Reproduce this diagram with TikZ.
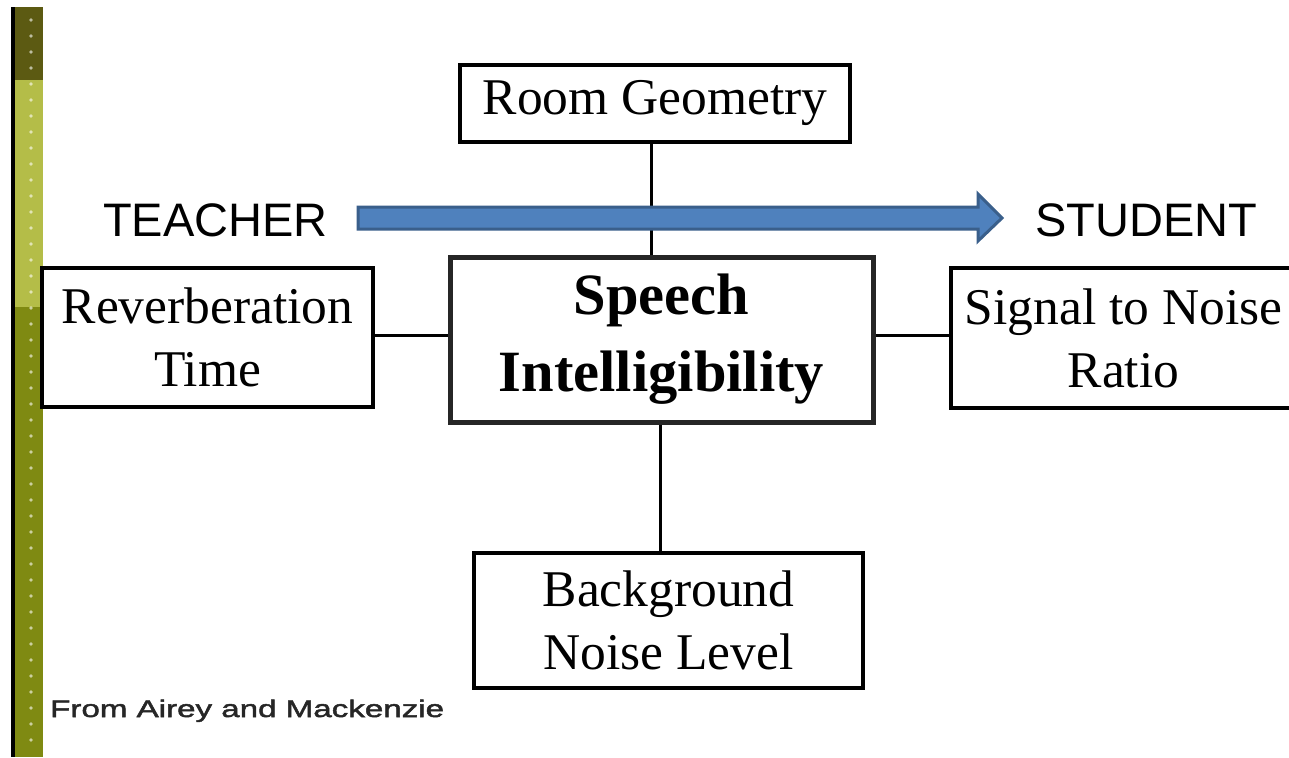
\documentclass[tikz,border=0pt]{standalone}
\usepackage{fontspec}
\setmainfont{Liberation Serif}
\newfontfamily\labelsans{Liberation Sans}
\newfontfamily\widesans[FakeStretch=1.38,FakeBold=2]{Liberation Sans}
\definecolor{barDark}{HTML}{5C5A12}
\definecolor{barLight}{HTML}{B4BD48}
\definecolor{barOlive}{HTML}{7F8A12}
\definecolor{arrowFill}{HTML}{4F81BD}
\definecolor{arrowLine}{HTML}{3A5F8B}
\tikzset{
  factor/.style={draw=black, line width=3.2pt, fill=white, align=center, inner sep=0pt,
     font=\fontsize{51.5}{63}\selectfont},
  central/.style={draw=black!85, line width=5pt, fill=white, align=center, inner sep=0pt,
     font=\fontsize{58.5}{75}\selectfont\bfseries},
  link/.style={line width=3pt, draw=black},
  actor/.style={font=\labelsans\fontsize{47}{50}\selectfont, inner sep=0pt, anchor=base west},
}
\begin{document}
\begin{tikzpicture}[x=1pt,y=-1pt]
\useasboundingbox (0,0) rectangle (1289,757);
\clip (0,0) rectangle (1289,757);
\fill[white] (0,0) rectangle (1289,757);
% left decorative bar
\fill[black] (11,7) rectangle (15,757);
\fill[barDark] (15,7) rectangle (43,80);
\fill[barLight] (15,80) rectangle (43,307);
\fill[barOlive] (15,307) rectangle (43,757);
\foreach \yy in {20,36,...,750} {\fill[white,opacity=0.6] (31,\yy) circle (1.8);}
% boxes
\node[factor, minimum width=390, minimum height=77] (room) at (655,103.5) {Room Geometry};
\node[factor, minimum width=331, minimum height=139] (reverb) at (207.5,337.5) {Reverberation\\Time};
\node[central, minimum width=423, minimum height=165] (speech) at (661.5,339.5) {Speech\\[2pt]Intelligibility};
\node[factor, minimum width=345, minimum height=140] (snr) at (1123.5,338) {Signal to Noise\\Ratio};
\node[factor, minimum width=389, minimum height=135] (noise) at (668.5,620.5) {Background\\Noise Level};
% connectors
\draw[link] (room.south -| 651,0) -- (speech.north -| 651,0);
\draw[link] (reverb.east |- 0,335) -- (speech.west |- 0,335);
\draw[link] (speech.east |- 0,335) -- (snr.west |- 0,335);
\draw[link] (speech.south -| 660,0) -- (noise.north -| 660,0);
% teacher / student arrow
\node[actor] (teacher) at (103,236) {TEACHER};
\node[actor] (student) at (1035,236) {STUDENT};
\draw[fill=arrowFill, draw=arrowLine, line width=3pt, line join=miter]
  (358,207) -- (978,207) -- (978,194) -- (1002,218) -- (978,241) -- (978,229) -- (358,229) -- cycle;
% source
\node[font=\widesans\fontsize{24}{26}\selectfont, text=black!85, inner sep=0pt, anchor=base west] (src) at (50,717) {From Airey and Mackenzie};
\end{tikzpicture}
\end{document}
